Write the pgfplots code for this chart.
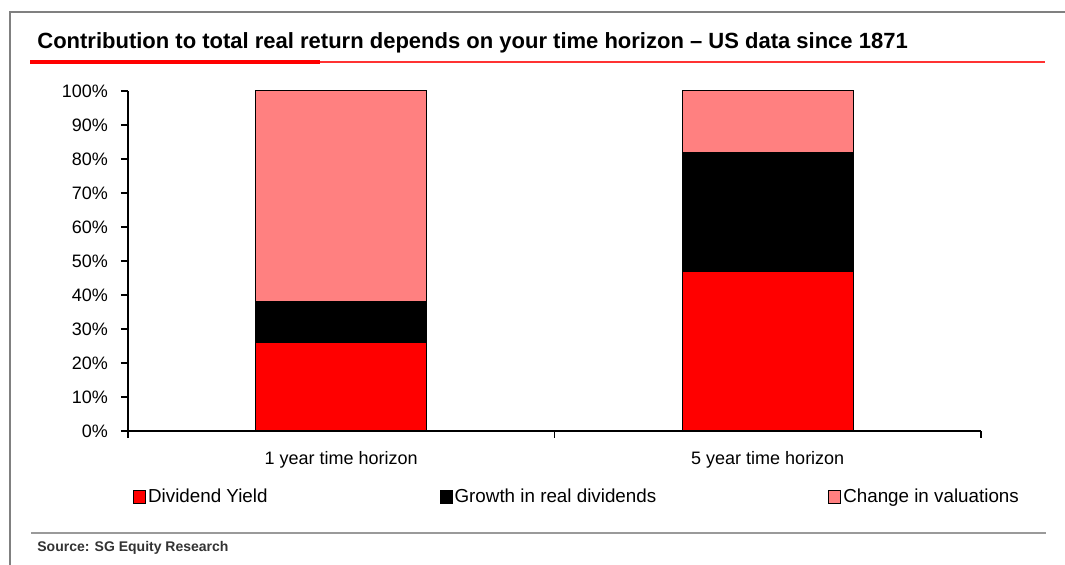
\documentclass[border=0pt]{standalone}
\usepackage{fontspec}
\setmainfont{Liberation Sans}
\usepackage{pgfplots}
\pgfplotsset{compat=1.18}
\definecolor{divred}{RGB}{255,0,0}
\definecolor{valpink}{RGB}{255,128,128}
\definecolor{framegray}{RGB}{128,128,128}
\definecolor{rulered}{RGB}{255,50,50}
\begin{document}
\begin{tikzpicture}
% page area
\path[use as bounding box] (0,0) rectangle (532.5pt,282.5pt);
% frame
\draw[framegray, line width=1pt] (5pt,0pt) -- (5pt,276.5pt) -- (532.5pt,276.5pt);
% title and rule
\node[anchor=west, inner sep=0pt, font=\fontsize{11}{13}\selectfont\bfseries] at (18.5pt,261pt)
  {Contribution to total real return depends on your time horizon – US data since 1871};
\draw[rulered, line width=0.9pt] (160pt,251.3pt) -- (522.5pt,251.3pt);
\draw[divred, line width=2pt] (15pt,251.3pt) -- (160pt,251.3pt);
% footer
\draw[framegray!80, line width=1pt] (15.5pt,16pt) -- (523pt,16pt);
\node[anchor=west, inner sep=0pt, font=\fontsize{7}{8}\selectfont\bfseries, text=black!80] at (18.5pt,8.5pt)
  {Source: SG Equity Research};

\begin{axis}[
  at={(64pt,67pt)}, anchor=south west,
  scale only axis, width=426.5pt, height=170pt,
  ybar stacked, bar width=0.4,
  xmin=-0.5, xmax=1.5, ymin=0, ymax=100,
  axis lines*=left,
  axis line style={line width=0.6pt, black},
  tick align=outside,
  major tick length=3.5pt,
  every tick/.style={black, line width=0.6pt},
  xtick={-0.5,0.5,1.5}, xticklabels={},
  extra x ticks={0,1},
  extra x tick labels={1 year time horizon, 5 year time horizon},
  extra x tick style={major tick length=0pt, xticklabel style={yshift=-6.5pt}},
  ytick={0,10,...,100},
  yticklabel={\pgfmathprintnumber{\tick}\%},
  /pgf/number format/assume math mode=true,
  yticklabel style={xshift=-3pt},
  tick label style={font=\fontsize{9}{10}\selectfont},
  legend columns=3,
  legend style={at={(0.006,-0.195)}, anchor=west, draw=none, fill=none,
    inner sep=0pt, outer sep=0pt,
    font=\fontsize{9.4}{10}\selectfont,
    nodes={inner sep=1pt},
    /tikz/every even column/.append style={column sep=85pt}},
  legend cell align=left,
  legend image code/.code={\draw[#1, line width=0.5pt] (0pt,-3.2pt) rectangle (6pt,3.2pt);},
]
\addplot[fill=divred, draw=black, line width=0.5pt] coordinates {(0,26) (1,47)};
\addplot[fill=black, draw=black, line width=0.5pt] coordinates {(0,12) (1,35)};
\addplot[fill=valpink, draw=black, line width=0.5pt] coordinates {(0,62) (1,18)};
\legend{Dividend Yield, Growth in real dividends, Change in valuations}
\end{axis}
\end{tikzpicture}
\end{document}
